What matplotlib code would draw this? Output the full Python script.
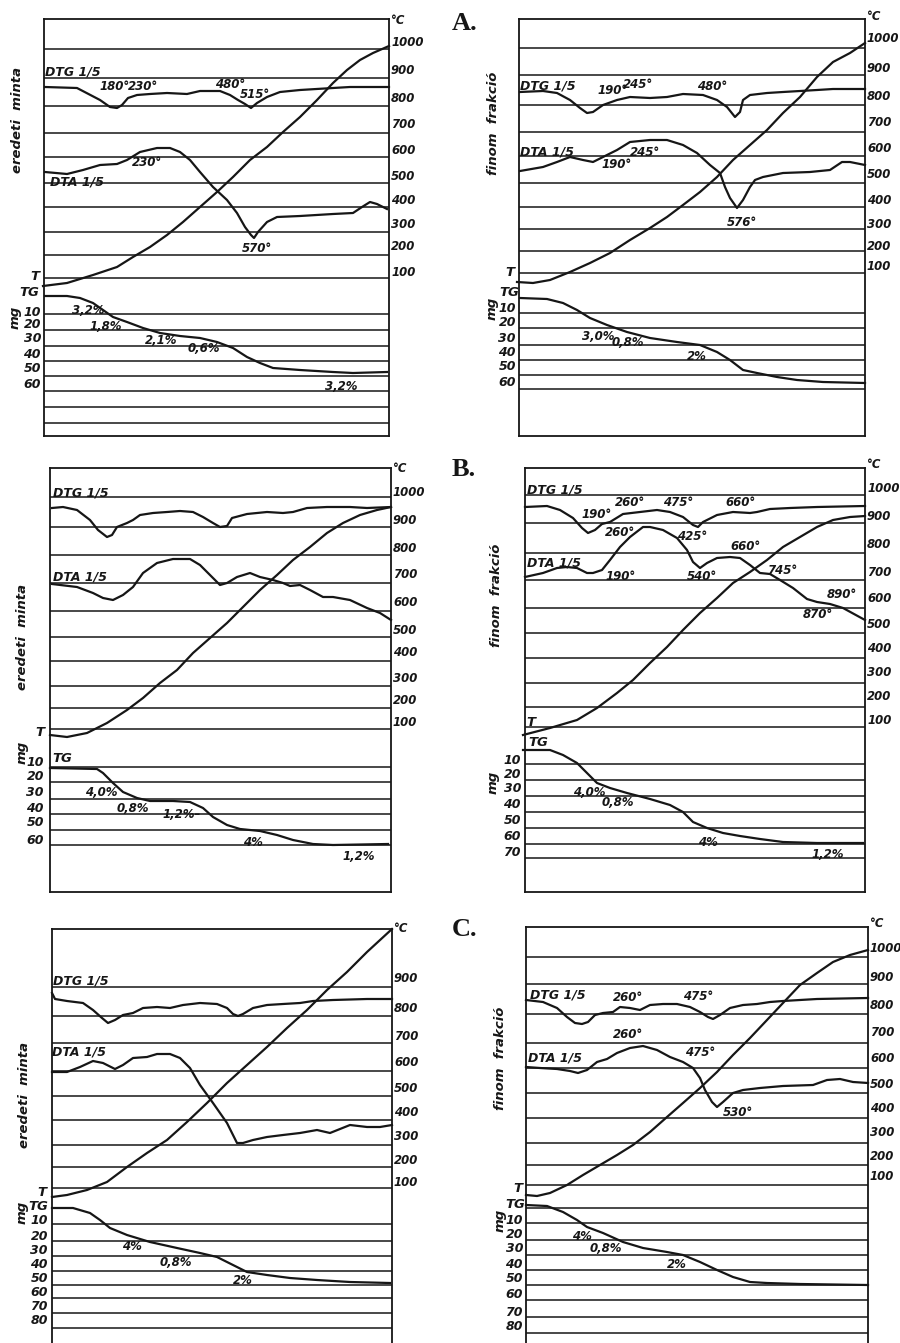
import matplotlib
matplotlib.use('Agg')
import matplotlib.pyplot as plt

plt.rcParams['font.family'] = ['Liberation Sans Narrow', 'DejaVu Sans']
plt.rcParams['font.style'] = 'italic'
plt.rcParams['font.weight'] = 'bold'

INK = '#161616'
W, H = 900, 1343

# all positions below (pixel units of the page)
TEMP_LABELS = ['1000', '900', '800', '700', '600', '500', '400', '300', '200', '100']
MG_LABELS = ['10', '20', '30', '40', '50', '60', '70', '80']

# ---- A, eredeti minta
A1_BOX = (44, 19, 389, 436)
A1_GRID = [49, 78, 106, 133, 157, 183, 207, 232, 255, 278, 314, 330, 346, 361, 376, 391, 407, 423]
A1_TEMP_Y = [42, 70, 99, 125, 150, 177, 201, 225, 247, 272]
A1_MG_Y = [312, 324, 339, 355, 369, 385]
A1_DTG = [(45, 87), (77, 88), (100, 100), (110, 107), (117, 108), (122, 105), (128, 98), (137, 95),
          (150, 94), (167, 93), (187, 94), (200, 91), (220, 91), (230, 95), (238, 100), (245, 104),
          (251, 108), (257, 103), (267, 97), (280, 92), (300, 90), (333, 88), (350, 87), (389, 87)]
A1_DTA = [(45, 172), (67, 174), (83, 170), (100, 165), (117, 164), (127, 160), (140, 152), (157, 148),
          (170, 148), (180, 152), (190, 160), (200, 172), (213, 187), (227, 200), (237, 213), (245, 227),
          (251, 235), (254, 238), (258, 232), (267, 222), (277, 217), (300, 216), (333, 214), (353, 213),
          (362, 207), (370, 202), (377, 204), (387, 209)]
A1_T = [(43, 286), (67, 283), (93, 275), (117, 267), (133, 257), (150, 247), (167, 235), (183, 222),
        (200, 207), (217, 192), (233, 177), (250, 160), (267, 147), (283, 132), (300, 117), (317, 100),
        (333, 83), (347, 70), (360, 60), (373, 53), (389, 46)]
A1_TG = [(45, 296), (67, 296), (80, 298), (93, 303), (103, 310), (113, 317), (127, 322), (143, 328),
         (160, 333), (180, 336), (200, 338), (217, 342), (233, 348), (247, 357), (260, 363), (273, 368),
         (300, 370), (333, 372), (353, 373), (387, 372)]
A1_NOTES = [('180°', 100, 87), ('230°', 128, 87), ('480°', 215, 84), ('515°', 240, 94),
            ('230°', 132, 163), ('570°', 242, 248),
            ('3,2%', 72, 311), ('1,8%', 90, 327), ('2,1%', 145, 340), ('0,6%', 188, 348), ('3,2%', 325, 387)]

# ---- A, finom frakció
A2_BOX = (519, 19, 865, 436)
A2_GRID = [48, 75, 105, 132, 156, 183, 207, 229, 251, 273, 313, 328, 345, 360, 375, 389]
A2_TEMP_Y = [38, 68, 97, 123, 149, 175, 200, 224, 246, 266]
A2_MG_Y = [308, 322, 338, 353, 367, 383]
A2_DTG = [(520, 92), (543, 91), (557, 93), (570, 100), (580, 108), (587, 113), (593, 112), (603, 105),
          (617, 100), (630, 97), (650, 98), (667, 97), (683, 94), (703, 95), (717, 100), (727, 107),
          (735, 117), (740, 112), (743, 100), (750, 95), (767, 93), (783, 92), (817, 90), (833, 89), (865, 89)]
A2_DTA = [(520, 171), (543, 167), (557, 162), (570, 157), (583, 160), (593, 162), (603, 157), (617, 150),
          (630, 142), (650, 140), (667, 140), (683, 145), (697, 153), (710, 165), (720, 173), (725, 187),
          (730, 198), (737, 208), (743, 200), (750, 187), (755, 180), (763, 177), (783, 173), (810, 172),
          (830, 170), (842, 162), (850, 162), (865, 165)]
A2_T = [(517, 282), (533, 283), (550, 280), (570, 272), (590, 263), (610, 253), (630, 240), (650, 228),
        (667, 217), (683, 205), (700, 192), (717, 177), (733, 160), (750, 145), (767, 130), (783, 113),
        (800, 97), (817, 77), (833, 62), (850, 53), (865, 43)]
A2_TG = [(520, 298), (547, 299), (563, 303), (577, 310), (590, 318), (607, 325), (627, 332), (650, 338),
         (677, 342), (700, 345), (717, 352), (730, 360), (743, 370), (757, 373), (777, 377), (797, 380),
         (823, 382), (865, 383)]
A2_NOTES = [('190°', 597, 90), ('245°', 623, 85), ('480°', 697, 87),
            ('245°', 630, 152), ('190°', 602, 165), ('576°', 727, 222),
            ('3,0%', 582, 337), ('0,8%', 612, 343), ('2%', 687, 357)]

# ---- B, eredeti minta
B1_BOX = (50, 468, 391, 892)
B1_GRID = [497, 527, 555, 583, 611, 637, 661, 686, 708, 729, 767, 782, 799, 814, 830, 845]
B1_TEMP_Y = [492, 520, 548, 575, 603, 630, 653, 678, 701, 723]
B1_MG_Y = [762, 777, 793, 808, 823, 840]
B1_DTG = [(52, 508), (63, 507), (77, 510), (90, 520), (98, 530), (107, 537), (112, 535), (117, 527),
          (127, 523), (133, 520), (140, 515), (153, 513), (167, 512), (180, 511), (193, 512), (203, 517),
          (213, 523), (220, 527), (227, 526), (232, 518), (247, 514), (267, 512), (283, 513), (293, 512),
          (307, 508), (327, 507), (350, 507), (367, 508), (391, 507)]
B1_DTA = [(52, 584), (77, 587), (93, 593), (103, 598), (113, 600), (123, 595), (133, 587), (143, 573),
          (157, 563), (173, 559), (190, 559), (200, 565), (210, 575), (220, 585), (227, 583), (237, 577),
          (250, 573), (260, 577), (273, 580), (283, 583), (290, 586), (300, 585), (310, 590), (323, 597),
          (333, 597), (350, 600), (367, 608), (380, 613), (391, 620)]
B1_T = [(50, 735), (67, 737), (87, 733), (107, 723), (127, 710), (143, 698), (160, 683), (177, 670),
        (193, 653), (210, 638), (227, 623), (243, 607), (260, 590), (277, 575), (293, 560), (310, 547),
        (327, 533), (343, 523), (360, 515), (377, 510), (391, 507)]
B1_TG = [(50, 768), (97, 769), (103, 773), (113, 783), (123, 792), (137, 798), (150, 801), (173, 801),
         (190, 802), (203, 808), (213, 817), (227, 825), (240, 829), (260, 831), (277, 835), (293, 840),
         (313, 844), (333, 845), (388, 844)]
B1_NOTES = [('4,0%', 85, 793), ('0,8%', 117, 809), ('1,2%–', 163, 815), ('4%', 243, 842), ('1,2%', 343, 857)]

# ---- B, finom frakció
B2_BOX = (525, 468, 865, 892)
B2_GRID = [495, 523, 553, 580, 608, 633, 658, 683, 707, 727, 764, 780, 796, 812, 828, 844, 858]
B2_TEMP_Y = [488, 517, 545, 572, 598, 625, 649, 673, 697, 720]
B2_MG_Y = [760, 775, 788, 805, 820, 837, 852]
B2_DTG = [(525, 507), (547, 506), (560, 510), (573, 518), (582, 528), (588, 533), (595, 530), (602, 524),
          (610, 522), (623, 514), (640, 512), (657, 510), (670, 512), (683, 517), (693, 525), (698, 527),
          (703, 522), (717, 515), (733, 512), (750, 513), (757, 512), (770, 509), (790, 508), (817, 507),
          (865, 506)]
B2_DTA = [(525, 577), (543, 573), (557, 568), (567, 567), (577, 568), (587, 573), (593, 573), (602, 570),
          (610, 560), (620, 547), (630, 537), (643, 527), (650, 527), (663, 530), (677, 538), (687, 550),
          (693, 562), (700, 568), (707, 563), (717, 558), (730, 557), (740, 558), (750, 565), (760, 573),
          (770, 574), (780, 580), (793, 588), (807, 599), (817, 602), (830, 604), (843, 608), (865, 620)]
B2_T = [(523, 735), (550, 728), (577, 720), (597, 708), (617, 693), (633, 680), (650, 663), (667, 647),
        (683, 630), (700, 613), (717, 598), (733, 583), (750, 572), (767, 560), (783, 547), (800, 537),
        (817, 527), (833, 520), (850, 517), (865, 516)]
B2_TG = [(523, 750), (550, 750), (563, 755), (577, 763), (587, 773), (597, 783), (610, 788), (627, 793),
         (650, 799), (670, 805), (683, 812), (693, 822), (707, 828), (723, 833), (740, 836), (760, 839),
         (783, 842), (817, 843), (863, 843)]
B2_NOTES = [('190°', 582, 515), ('260°', 615, 502), ('475°', 663, 503), ('660°', 725, 503),
            ('260°', 605, 532), ('425°', 677, 537), ('660°', 730, 547), ('190°', 605, 576),
            ('540°', 687, 577), ('745°', 767, 570), ('890°', 827, 594), ('870°', 803, 615),
            ('4,0%', 573, 792), ('0,8%', 602, 803), ('4%', 698, 842), ('1,2%', 812, 855)]

# ---- C, eredeti minta
C1_BOX = (52, 929, 392, 1352)
C1_GRID = [987, 1016, 1043, 1071, 1096, 1120, 1145, 1167, 1188,
           1224, 1241, 1256, 1271, 1285, 1298, 1313, 1328]
C1_TEMP_Y = [978, 1008, 1036, 1063, 1088, 1112, 1137, 1160, 1182]
C1_MG_Y = [1221, 1236, 1250, 1265, 1279, 1293, 1307, 1321]
C1_DTG = [(52, 993), (55, 999), (67, 1001), (83, 1003), (93, 1010), (102, 1018), (108, 1023), (115, 1020),
          (123, 1015), (133, 1013), (143, 1008), (157, 1007), (170, 1008), (183, 1005), (200, 1003),
          (217, 1004), (227, 1008), (233, 1014), (238, 1016), (243, 1014), (253, 1008), (267, 1005),
          (283, 1004), (300, 1003), (313, 1001), (333, 1000), (367, 999), (392, 999)]
C1_DTA = [(52, 1072), (67, 1072), (80, 1067), (93, 1061), (103, 1063), (115, 1069), (123, 1065),
          (133, 1058), (147, 1057), (157, 1054), (170, 1054), (180, 1058), (190, 1068), (200, 1085),
          (213, 1103), (227, 1123), (237, 1143), (243, 1143), (253, 1140), (267, 1137), (283, 1135),
          (300, 1133), (317, 1130), (330, 1133), (350, 1125), (367, 1127), (380, 1127), (392, 1125)]
C1_T = [(52, 1197), (67, 1195), (87, 1190), (107, 1182), (127, 1167), (147, 1153), (167, 1140),
        (187, 1122), (207, 1103), (227, 1083), (247, 1065), (267, 1047), (287, 1028), (307, 1010),
        (327, 990), (347, 972), (367, 952), (392, 929)]
C1_TG = [(52, 1208), (73, 1208), (90, 1213), (100, 1220), (110, 1228), (127, 1235), (150, 1242),
         (177, 1248), (200, 1253), (217, 1257), (233, 1265), (247, 1272), (267, 1275), (290, 1278),
         (317, 1280), (350, 1282), (390, 1283)]
C1_NOTES = [('4%', 122, 1247), ('0,8%', 160, 1263), ('2%', 233, 1280)]

# ---- C, finom frakció
C2_BOX = (526, 927, 868, 1352)
C2_GRID = [957, 984, 1014, 1043, 1068, 1093, 1118, 1143, 1165, 1185,
           1208, 1223, 1240, 1255, 1270, 1285, 1300, 1317, 1333]
C2_TEMP_Y = [948, 977, 1005, 1032, 1058, 1085, 1109, 1133, 1156, 1177]
C2_MG_Y = [1220, 1234, 1249, 1264, 1279, 1295, 1313, 1326]
C2_DTG = [(526, 1000), (543, 1002), (557, 1008), (567, 1017), (575, 1023), (582, 1024), (588, 1022),
          (595, 1015), (603, 1013), (613, 1012), (620, 1007), (630, 1008), (640, 1010), (650, 1005),
          (663, 1004), (677, 1004), (690, 1007), (700, 1012), (708, 1017), (713, 1019), (720, 1015),
          (730, 1008), (743, 1005), (757, 1004), (770, 1002), (783, 1001), (800, 1000), (817, 999), (868, 998)]
C2_DTA = [(526, 1067), (540, 1068), (557, 1069), (570, 1071), (578, 1073), (587, 1070), (597, 1062),
          (607, 1059), (617, 1053), (630, 1048), (643, 1046), (657, 1050), (670, 1057), (683, 1062),
          (693, 1068), (700, 1078), (705, 1090), (712, 1102), (717, 1107), (723, 1102), (733, 1093),
          (743, 1090), (760, 1088), (783, 1086), (813, 1085), (827, 1080), (840, 1079), (853, 1082), (868, 1083)]
C2_T = [(526, 1195), (537, 1196), (550, 1193), (567, 1185), (583, 1175), (600, 1165), (617, 1155),
        (633, 1145), (650, 1132), (667, 1117), (683, 1103), (700, 1088), (717, 1072), (733, 1055),
        (750, 1038), (767, 1020), (783, 1003), (800, 985), (817, 973), (833, 962), (850, 955), (868, 950)]
C2_TG = [(526, 1205), (547, 1206), (563, 1212), (577, 1220), (587, 1227), (603, 1233), (623, 1242),
         (643, 1248), (667, 1252), (683, 1255), (700, 1262), (717, 1270), (733, 1277), (750, 1282),
         (767, 1283), (800, 1284), (868, 1285)]
C2_NOTES = [('260°', 613, 997), ('475°', 683, 996), ('260°', 613, 1035), ('475°', 685, 1053),
            ('530°', 723, 1112), ('4%', 572, 1237), ('0,8%', 590, 1248), ('2%', 667, 1265)]

fig = plt.figure(figsize=(W / 100, H / 100), dpi=100)
fig.patch.set_facecolor('white')


def draw_panel(box, grid, temp_y, mg_y, curves, notes, side, side_x, dtg_xy, dta_xy, t_xy, tg_xy,
               mg_x, mgword_xy, degc_y):
    l, t, r, b = box
    ax = fig.add_axes([l / W, 1 - b / H, (r - l) / W, (b - t) / H])
    ax.set_xlim(l, r)
    ax.set_ylim(b, t)
    ax.set_xticks([])
    ax.set_yticks([])
    for s in ax.spines.values():
        s.set_linewidth(1.3)
        s.set_color(INK)
    ax.hlines(grid, l, r, color=INK, lw=1.1)
    for pts in curves:
        xs, ys = zip(*pts)
        ax.plot(xs, ys, color=INK, lw=1.6, solid_joinstyle='round', clip_on=False)

    # right temperature scale
    labels = TEMP_LABELS[len(TEMP_LABELS) - len(temp_y):]
    for lab, y in zip(labels, temp_y):
        ax.text(r + 2, y, lab, ha='left', va='center', fontsize=8.4, color=INK)
    ax.text(r + 2, degc_y, '°C', ha='left', va='center', fontsize=8.4, color=INK)

    # left side labels
    ax.text(side_x, side[1], side[0], rotation=90,
            ha='center', va='center', fontsize=9.5, color=INK)
    ax.text(dtg_xy[0], dtg_xy[1], 'DTG 1/5', ha='left', va='center', fontsize=9, color=INK)
    ax.text(dta_xy[0], dta_xy[1], 'DTA 1/5', ha='left', va='center', fontsize=9, color=INK)
    ax.text(t_xy[0], t_xy[1], 'T', ha=t_xy[2], va='center', fontsize=9.5, color=INK)
    ax.text(tg_xy[0], tg_xy[1], 'TG', ha=tg_xy[2], va='center', fontsize=9.5, color=INK)
    ax.text(mgword_xy[0], mgword_xy[1], 'mg', rotation=90, ha='center', va='center',
            fontsize=9.5, color=INK)
    for lab, y in zip(MG_LABELS, mg_y):
        ax.text(mg_x, y, lab, ha='right', va='center', fontsize=9, color=INK)

    for txt, x, y in notes:
        ax.text(x, y, txt, ha='left', va='center', fontsize=8.5, color=INK)
    return ax


draw_panel(A1_BOX, A1_GRID, A1_TEMP_Y, A1_MG_Y, [A1_DTG, A1_DTA, A1_T, A1_TG], A1_NOTES,
           ('eredeti  minta', 120), 18, (45, 72), (50, 182), (39, 277, 'right'), (39, 293, 'right'),
           41, (15, 317), 21)
draw_panel(A2_BOX, A2_GRID, A2_TEMP_Y, A2_MG_Y, [A2_DTG, A2_DTA, A2_T, A2_TG], A2_NOTES,
           ('finom  frakció', 123), 493, (520, 86), (520, 152), (514, 273, 'right'), (519, 293, 'right'),
           516, (492, 308), 17)
draw_panel(B1_BOX, B1_GRID, B1_TEMP_Y, B1_MG_Y, [B1_DTG, B1_DTA, B1_T, B1_TG], B1_NOTES,
           ('eredeti  minta', 637), 23, (53, 493), (53, 577), (44, 732, 'right'), (52, 758, 'left'),
           44, (22, 752), 468)
draw_panel(B2_BOX, B2_GRID, B2_TEMP_Y, B2_MG_Y, [B2_DTG, B2_DTA, B2_T, B2_TG], B2_NOTES,
           ('finom  frakció', 595), 497, (527, 490), (527, 563), (526, 722, 'left'), (528, 743, 'left'),
           521, (493, 782), 465)
draw_panel(C1_BOX, C1_GRID, C1_TEMP_Y, C1_MG_Y, [C1_DTG, C1_DTA, C1_T, C1_TG], C1_NOTES,
           ('eredeti  minta', 1095), 25, (53, 981), (52, 1052), (46, 1192, 'right'), (48, 1207, 'right'),
           48, (22, 1212), 928)
draw_panel(C2_BOX, C2_GRID, C2_TEMP_Y, C2_MG_Y, [C2_DTG, C2_DTA, C2_T, C2_TG], C2_NOTES,
           ('finom  frakció', 1058), 500, (530, 995), (528, 1058), (522, 1188, 'right'), (525, 1204, 'right'),
           523, (500, 1220), 923)

for letter, y in [('A.', 23), ('B.', 470), ('C.', 929)]:
    fig.text(452 / W, 1 - y / H, letter, ha='left', va='center', fontsize=19,
             family='Liberation Serif', style='normal', weight='bold', color=INK)

fig.savefig('out.png', dpi=100, facecolor='white')
